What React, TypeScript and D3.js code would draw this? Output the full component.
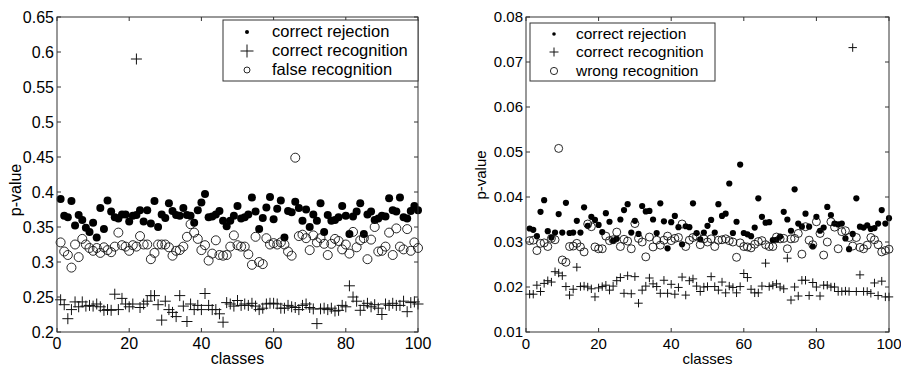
import React from 'react';
import * as d3 from 'd3';

// class index 1..100
const classes = d3.range(1, 101);

// ---- left panel ----
const leftRejection = [
  0.390, 0.366, 0.364, 0.387, 0.352, 0.367, 0.360, 0.349, 0.343, 0.356,
  0.335, 0.377, 0.347, 0.388, 0.372, 0.364, 0.362, 0.368, 0.368, 0.358,
  0.366, 0.367, 0.374, 0.358, 0.374, 0.355, 0.387, 0.350, 0.368, 0.363,
  0.384, 0.373, 0.367, 0.366, 0.377, 0.367, 0.366, 0.356, 0.374, 0.385,
  0.397, 0.364, 0.365, 0.368, 0.373, 0.359, 0.351, 0.359, 0.366, 0.380,
  0.362, 0.364, 0.368, 0.392, 0.372, 0.347, 0.363, 0.378, 0.393, 0.361,
  0.376, 0.388, 0.335, 0.373, 0.371, 0.386, 0.377, 0.359, 0.375, 0.350,
  0.368, 0.359, 0.384, 0.343, 0.367, 0.359, 0.360, 0.364, 0.380, 0.366,
  0.340, 0.365, 0.372, 0.384, 0.340, 0.368, 0.372, 0.360, 0.362, 0.366,
  0.365, 0.391, 0.374, 0.372, 0.392, 0.364, 0.362, 0.373, 0.380, 0.374,
];
const leftRecognition = [
  0.246, 0.239, 0.219, 0.232, 0.243, 0.236, 0.243, 0.237, 0.238, 0.237,
  0.240, 0.236, 0.231, 0.232, 0.231, 0.254, 0.232, 0.248, 0.240, 0.236,
  0.240, 0.590, 0.235, 0.240, 0.244, 0.252, 0.252, 0.239, 0.217, 0.244,
  0.232, 0.228, 0.222, 0.252, 0.237, 0.215, 0.240, 0.232, 0.238, 0.232,
  0.255, 0.238, 0.232, 0.232, 0.226, 0.214, 0.242, 0.240, 0.237, 0.245,
  0.238, 0.240, 0.238, 0.241, 0.237, 0.232, 0.234, 0.240, 0.241, 0.241,
  0.240, 0.234, 0.234, 0.238, 0.236, 0.235, 0.232, 0.238, 0.240, 0.235,
  0.233, 0.212, 0.233, 0.234, 0.232, 0.234, 0.230, 0.231, 0.238, 0.236,
  0.266, 0.250, 0.244, 0.231, 0.238, 0.241, 0.236, 0.239, 0.234, 0.225,
  0.240, 0.238, 0.241, 0.238, 0.238, 0.244, 0.229, 0.242, 0.243, 0.240,
];
const leftFalse = [
  0.328, 0.315, 0.310, 0.292, 0.325, 0.307, 0.333, 0.325, 0.320, 0.316,
  0.320, 0.313, 0.321, 0.317, 0.314, 0.322, 0.342, 0.324, 0.322, 0.316,
  0.324, 0.322, 0.337, 0.325, 0.325, 0.304, 0.313, 0.325, 0.325, 0.325,
  0.321, 0.309, 0.316, 0.317, 0.322, 0.336, 0.354, 0.342, 0.333, 0.317,
  0.324, 0.302, 0.312, 0.331, 0.310, 0.309, 0.310, 0.322, 0.338, 0.324,
  0.322, 0.322, 0.311, 0.296, 0.336, 0.300, 0.297, 0.334, 0.325, 0.327,
  0.325, 0.328, 0.325, 0.315, 0.309, 0.449, 0.337, 0.339, 0.334, 0.317,
  0.338, 0.328, 0.334, 0.326, 0.310, 0.326, 0.333, 0.330, 0.318, 0.325,
  0.312, 0.343, 0.321, 0.331, 0.334, 0.304, 0.332, 0.350, 0.315, 0.316,
  0.322, 0.342, 0.310, 0.348, 0.322, 0.318, 0.347, 0.316, 0.328, 0.320,
];

// ---- right panel ----
const rightRejection = [
  0.0330, 0.0327, 0.0313, 0.0367, 0.0393, 0.0324, 0.0310, 0.0321, 0.0362, 0.0321,
  0.0387, 0.0320, 0.0321, 0.0347, 0.0321, 0.0377, 0.0336, 0.0356, 0.0349, 0.0338,
  0.0322, 0.0364, 0.0345, 0.0303, 0.0307, 0.0350, 0.0371, 0.0384, 0.0321, 0.0347,
  0.0318, 0.0380, 0.0368, 0.0369, 0.0350, 0.0320, 0.0386, 0.0346, 0.0286, 0.0344,
  0.0358, 0.0333, 0.0295, 0.0335, 0.0333, 0.0386, 0.0320, 0.0306, 0.0321, 0.0336,
  0.0349, 0.0321, 0.0384, 0.0358, 0.0363, 0.0430, 0.0320, 0.0345, 0.0472, 0.0320,
  0.0317, 0.0313, 0.0332, 0.0397, 0.0356, 0.0343, 0.0344, 0.0304, 0.0305, 0.0312,
  0.0367, 0.0350, 0.0325, 0.0417, 0.0341, 0.0334, 0.0363, 0.0334, 0.0290, 0.0356,
  0.0325, 0.0332, 0.0378, 0.0360, 0.0341, 0.0339, 0.0341, 0.0308, 0.0284, 0.0318,
  0.0397, 0.0334, 0.0332, 0.0337, 0.0329, 0.0331, 0.0341, 0.0371, 0.0341, 0.0353,
];
const rightRecognition = [
  0.0184, 0.0184, 0.0204, 0.0190, 0.0208, 0.0214, 0.0211, 0.0234, 0.0231, 0.0225,
  0.0201, 0.0182, 0.0195, 0.0244, 0.0201, 0.0202, 0.0200, 0.0196, 0.0178, 0.0198,
  0.0201, 0.0204, 0.0193, 0.0202, 0.0214, 0.0221, 0.0186, 0.0225, 0.0185, 0.0223,
  0.0164, 0.0193, 0.0202, 0.0220, 0.0207, 0.0201, 0.0186, 0.0215, 0.0186, 0.0206,
  0.0184, 0.0199, 0.0222, 0.0182, 0.0214, 0.0218, 0.0202, 0.0190, 0.0200, 0.0201,
  0.0223, 0.0201, 0.0193, 0.0211, 0.0187, 0.0202, 0.0199, 0.0187, 0.0201, 0.0230,
  0.0221, 0.0195, 0.0187, 0.0187, 0.0202, 0.0253, 0.0201, 0.0204, 0.0207, 0.0200,
  0.0196, 0.0264, 0.0171, 0.0200, 0.0180, 0.0215, 0.0215, 0.0181, 0.0210, 0.0200,
  0.0180, 0.0204, 0.0204, 0.0200, 0.0200, 0.0190, 0.0190, 0.0191, 0.0190, 0.0732,
  0.0190, 0.0227, 0.0190, 0.0190, 0.0186, 0.0209, 0.0181, 0.0213, 0.0178, 0.0178,
];
const rightWrong = [
  0.0303, 0.0304, 0.0281, 0.0297, 0.0298, 0.0290, 0.0308, 0.0305, 0.0508, 0.0260,
  0.0255, 0.0290, 0.0291, 0.0297, 0.0289, 0.0278, 0.0340, 0.0334, 0.0289, 0.0285,
  0.0285, 0.0313, 0.0303, 0.0305, 0.0322, 0.0290, 0.0306, 0.0302, 0.0285, 0.0341,
  0.0308, 0.0300, 0.0267, 0.0311, 0.0289, 0.0304, 0.0293, 0.0304, 0.0313, 0.0303,
  0.0308, 0.0310, 0.0340, 0.0290, 0.0304, 0.0310, 0.0313, 0.0294, 0.0307, 0.0300,
  0.0307, 0.0290, 0.0304, 0.0305, 0.0307, 0.0303, 0.0300, 0.0266, 0.0298, 0.0290,
  0.0289, 0.0287, 0.0295, 0.0301, 0.0303, 0.0294, 0.0290, 0.0290, 0.0311, 0.0307,
  0.0308, 0.0285, 0.0307, 0.0308, 0.0319, 0.0273, 0.0334, 0.0304, 0.0294, 0.0345,
  0.0319, 0.0271, 0.0300, 0.0345, 0.0333, 0.0285, 0.0323, 0.0325, 0.0310, 0.0291,
  0.0310, 0.0288, 0.0285, 0.0293, 0.0310, 0.0305, 0.0294, 0.0278, 0.0281, 0.0284,
];

const xTicks = [0, 20, 40, 60, 80, 100];
const leftYTicks = [0.2, 0.25, 0.3, 0.35, 0.4, 0.45, 0.5, 0.55, 0.6, 0.65];
const leftYLabels = ['0.2', '0.25', '0.3', '0.35', '0.4', '0.45', '0.5', '0.55', '0.6', '0.65'];
const rightYTicks = [0.01, 0.02, 0.03, 0.04, 0.05, 0.06, 0.07, 0.08];
const rightYLabels = ['0.01', '0.02', '0.03', '0.04', '0.05', '0.06', '0.07', '0.08'];

const leftLegend = ['correct rejection', 'correct recognition', 'false recognition'];
const rightLegend = ['correct rejection', 'correct recognition', 'wrong recognition'];

const FONT = '"Liberation Sans", Arial, Helvetica, sans-serif';

type Kind = 'dot' | 'plus' | 'ring';

const Marker = ({ kind, x, y, s }: { kind: Kind; x: number; y: number; s: number }) => {
  if (kind === 'dot') return <circle cx={x} cy={y} r={s} fill="#000" />;
  if (kind === 'ring') return <circle cx={x} cy={y} r={s} fill="none" stroke="#111" strokeWidth={0.9} />;
  return <path d={`M${x - s},${y}H${x + s}M${x},${y - s}V${y + s}`} stroke="#111" strokeWidth={1} fill="none" />;
};

type PanelProps = {
  box: [number, number, number, number]; // left, right, top, bottom
  yDomain: [number, number];
  yTicks: number[];
  yLabels: string[];
  series: { kind: Kind; values: number[]; size: number }[];
  legend: string[];
  legendBox: [number, number, number, number];
  legendMarkX: number;
  legendTextX: number;
  legendRows: number[];
  legendSizes: number[];
  fontSize: number;
  legendFont: number;
  yLabelX: number;
  yLabelY: number;
};

const Panel = (p: PanelProps) => {
  const [l, r, t, b] = p.box;
  const x = d3.scaleLinear().domain([0, 100]).range([l, r]);
  const y = d3.scaleLinear().domain(p.yDomain).range([b, t]);
  const tl = 4;
  const axisColor = '#333';
  return (
    <g fontFamily={FONT}>
      {/* data */}
      {p.series.map((s, si) => (
        <g key={si}>
          {s.values.map((v, i) => (
            <Marker key={i} kind={s.kind} x={x(classes[i])} y={y(v)} s={s.size} />
          ))}
        </g>
      ))}
      {/* box */}
      <rect x={l} y={t} width={r - l} height={b - t} fill="none" stroke={axisColor} strokeWidth={1} />
      {xTicks.map((v) => (
        <g key={'x' + v}>
          <line x1={x(v)} x2={x(v)} y1={b} y2={b - tl} stroke={axisColor} />
          <line x1={x(v)} x2={x(v)} y1={t} y2={t + tl} stroke={axisColor} />
          <text x={x(v)} y={b + 17} textAnchor="middle" fontSize={p.fontSize} fill="#000">
            {v}
          </text>
        </g>
      ))}
      {p.yTicks.map((v, i) => (
        <g key={'y' + i}>
          <line x1={l} x2={l + tl} y1={y(v)} y2={y(v)} stroke={axisColor} />
          <line x1={r} x2={r - tl} y1={y(v)} y2={y(v)} stroke={axisColor} />
          <text x={l - 3} y={y(v)} dy="0.36em" textAnchor="end" fontSize={p.fontSize} fill="#000">
            {p.yLabels[i]}
          </text>
        </g>
      ))}
      <text x={(l + r) / 2} y={364} textAnchor="middle" fontSize={p.fontSize} fill="#000">
        classes
      </text>
      <text
        transform={`translate(${p.yLabelX},${p.yLabelY}) rotate(-90)`}
        textAnchor="middle"
        fontSize={p.fontSize}
        fill="#000"
      >
        p-value
      </text>
      {/* legend */}
      <rect
        x={p.legendBox[0]}
        y={p.legendBox[2]}
        width={p.legendBox[1] - p.legendBox[0]}
        height={p.legendBox[3] - p.legendBox[2]}
        fill="#fff"
        stroke={axisColor}
      />
      {p.legend.map((name, i) => (
        <g key={name}>
          <Marker kind={p.series[i].kind} x={p.legendMarkX} y={p.legendRows[i] - 5} s={p.legendSizes[i]} />
          <text x={p.legendTextX} y={p.legendRows[i]} fontSize={p.legendFont} fill="#000">
            {name}
          </text>
        </g>
      ))}
    </g>
  );
};

export default function App() {
  return (
    <svg
      width={901}
      height={367}
      style={{ position: 'absolute', left: 0, top: 0, background: '#fff' }}
    >
      <Panel
        box={[57, 418, 17, 332]}
        yDomain={[0.2, 0.65]}
        yTicks={leftYTicks}
        yLabels={leftYLabels}
        series={[
          { kind: 'dot', values: leftRejection, size: 4 },
          { kind: 'plus', values: leftRecognition, size: 5.5 },
          { kind: 'ring', values: leftFalse, size: 4.5 },
        ]}
        legend={leftLegend}
        legendBox={[223, 418, 20, 81]}
        legendMarkX={247}
        legendTextX={272}
        legendRows={[37, 56, 75]}
        legendSizes={[2, 6.5, 3]}
        fontSize={16}
        legendFont={16.5}
        yLabelX={21}
        yLabelY={190}
      />
      <Panel
        box={[526, 889, 17, 332]}
        yDomain={[0.01, 0.08]}
        yTicks={rightYTicks}
        yLabels={rightYLabels}
        series={[
          { kind: 'dot', values: rightRejection, size: 3.1 },
          { kind: 'plus', values: rightRecognition, size: 4.2 },
          { kind: 'ring', values: rightWrong, size: 4 },
        ]}
        legend={rightLegend}
        legendBox={[530, 715, 23, 81]}
        legendMarkX={554}
        legendTextX={576}
        legendRows={[39, 57, 76]}
        legendSizes={[1.8, 4.5, 3.6]}
        fontSize={15}
        legendFont={15.5}
        yLabelX={486}
        yLabelY={175}
      />
    </svg>
  );
}
